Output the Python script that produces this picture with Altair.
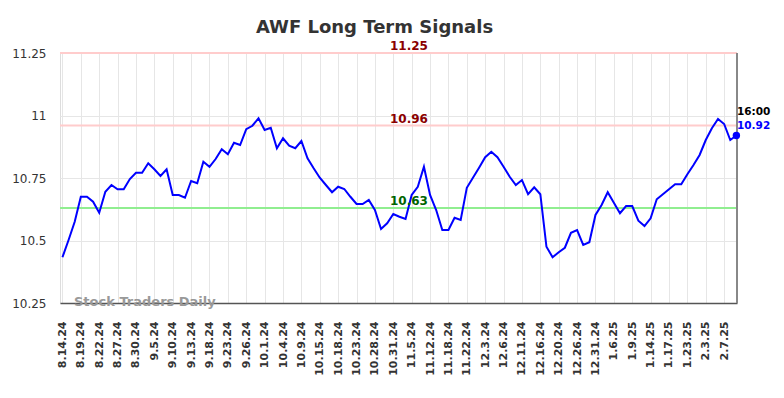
import altair as alt
import pandas as pd

# ---- data ----
values = [
    10.433, 10.502, 10.575, 10.675, 10.675, 10.655, 10.611, 10.695, 10.722, 10.705,
    10.705, 10.746, 10.771, 10.771, 10.809, 10.785, 10.758, 10.785, 10.682, 10.682,
    10.671, 10.738, 10.729, 10.815, 10.795, 10.826, 10.865, 10.845, 10.891, 10.882,
    10.945, 10.959, 10.989, 10.942, 10.951, 10.869, 10.909, 10.879, 10.869, 10.898,
    10.829, 10.789, 10.751, 10.722, 10.693, 10.715, 10.706, 10.675, 10.646, 10.646,
    10.662, 10.622, 10.546, 10.569, 10.606, 10.595, 10.586, 10.682, 10.715, 10.795,
    10.682, 10.622, 10.542, 10.542, 10.591, 10.582, 10.711, 10.751, 10.791, 10.833,
    10.855, 10.833, 10.795, 10.755, 10.722, 10.742, 10.685, 10.713, 10.685, 10.475,
    10.433, 10.453, 10.471, 10.531, 10.542, 10.482, 10.493, 10.602, 10.642, 10.693,
    10.651, 10.609, 10.638, 10.638, 10.579, 10.558, 10.589, 10.665, 10.685, 10.705,
    10.725, 10.725, 10.765, 10.802, 10.842, 10.902, 10.949, 10.986, 10.966, 10.902,
    10.92,
]
tick_labels = [
    "8.14.24", "8.19.24", "8.22.24", "8.27.24", "8.30.24", "9.5.24", "9.10.24",
    "9.13.24", "9.18.24", "9.23.24", "9.26.24", "10.1.24", "10.4.24", "10.9.24",
    "10.15.24", "10.18.24", "10.23.24", "10.28.24", "10.31.24", "11.5.24",
    "11.12.24", "11.18.24", "11.22.24", "12.3.24", "12.6.24", "12.11.24",
    "12.16.24", "12.20.24", "12.26.24", "12.31.24", "1.6.25", "1.9.25", "1.14.25",
    "1.17.25", "1.23.25", "2.3.25", "2.7.25",
]
tick_step = 3
y_ticks = [10.25, 10.5, 10.75, 11, 11.25]
levels = [11.25, 10.96, 10.63]
level_texts = ["11.25", "10.96", "10.63"]
level_line_colors = ["#ffcccc", "#ffcccc", "#90ee90"]
level_text_colors = ["#8b0000", "#8b0000", "#006400"]
last_time = "16:00"
title_text = "AWF Long Term Signals"
watermark = "Stock Traders Daily"

W, H = 677, 250
FONT = "DejaVu Sans"

df = pd.DataFrame({"i": list(range(len(values))), "v": values})
lv = pd.DataFrame({"v": levels, "t": level_texts,
                   "lc": level_line_colors, "tc": level_text_colors})

label_arr = "[" + ",".join("'" + s + "'" for s in tick_labels) + "]"
label_expr = f"{label_arr}[round(datum.value / {tick_step})]"

xscale = alt.Scale(domain=[-0.4, len(values) - 0.9], nice=False, zero=False)
yscale = alt.Scale(domain=[10.25, 11.25], nice=False, zero=False)

x_axis = alt.Axis(
    values=list(range(0, tick_step * len(tick_labels), tick_step)),
    tickCount=200,
    labelExpr=label_expr, labelAngle=270, labelFontSize=11,
    labelFontWeight="bold", labelColor="#333", ticks=False, labelPadding=18,
    labelOverlap=False, labelFlush=False, labelBound=False,
    domainColor="#555", domainWidth=1.5, gridColor="#e6e6e6", title=None,
)
y_axis = alt.Axis(
    values=y_ticks, tickCount=50,
    labelExpr="format(datum.value, '~g')", labelFontSize=12, labelColor="#333",
    domain=False, ticks=False, labelPadding=14, labelFlush=False,
    labelOverlap=False, gridColor="#e6e6e6", title=None,
)

base = alt.Chart(df)

line = base.mark_line(color="#0000ff", strokeWidth=2).encode(
    x=alt.X("i:Q", scale=xscale, axis=x_axis),
    y=alt.Y("v:Q", scale=yscale, axis=y_axis),
)

level_rules = alt.Chart(lv).mark_rule(strokeWidth=2).encode(
    y=alt.Y("v:Q", scale=yscale),
    color=alt.Color("lc:N", scale=None),
)
level_labels = alt.Chart(lv).mark_text(
    font=FONT, fontSize=12, fontWeight="bold", align="center",
    baseline="alphabetic", dy=-3,
).encode(
    x=alt.value(349),
    y=alt.Y("v:Q", scale=yscale),
    text="t:N",
    color=alt.Color("tc:N", scale=None),
)

last_idx = len(values) - 1
last_point = base.transform_filter(f"datum.i == {last_idx}").mark_point(
    filled=True, size=55, color="#0000ff", opacity=1
).encode(x=alt.X("i:Q", scale=xscale), y=alt.Y("v:Q", scale=yscale))

right_rule = base.mark_rule(color="#888", strokeWidth=2).encode(
    x=alt.value(W), y=alt.value(0), y2=alt.value(H)
)

time_txt = alt.Chart(pd.DataFrame({"t": [last_time]})).mark_text(
    font=FONT, fontSize=10.5, fontWeight="bold", align="left",
    baseline="alphabetic", color="#000"
).encode(x=alt.value(W), y=alt.value(62), text="t:N")

val_txt = alt.Chart(pd.DataFrame({"t": [f"{values[-1]:.2f}"]})).mark_text(
    font=FONT, fontSize=10.5, fontWeight="bold", align="left",
    baseline="alphabetic", color="#0000ff"
).encode(x=alt.value(W), y=alt.value(76), text="t:N")

wm = alt.Chart(pd.DataFrame({"t": [watermark]})).mark_text(
    font=FONT, fontSize=13, fontWeight="bold", align="left",
    baseline="alphabetic", color="#999"
).encode(x=alt.value(14), y=alt.value(253), text="t:N")

title = alt.Chart(pd.DataFrame({"t": [title_text]})).mark_text(
    font=FONT, fontSize=18, fontWeight="bold", align="center",
    baseline="alphabetic", color="#333"
).encode(x=alt.value(314.5), y=alt.value(-20.3), text="t:N")

chart = alt.layer(
    level_rules, wm, line, right_rule, level_labels, last_point,
    time_txt, val_txt, title,
).properties(
    width=W, height=H,
    autosize=alt.AutoSizeParams(type="none"),
    padding={"left": 52, "top": 45, "right": 37, "bottom": 85},
    background="white",
).configure_view(stroke=None).configure(font=FONT)

chart.save("out.html", embed_options={"renderer": "svg", "actions": False})
